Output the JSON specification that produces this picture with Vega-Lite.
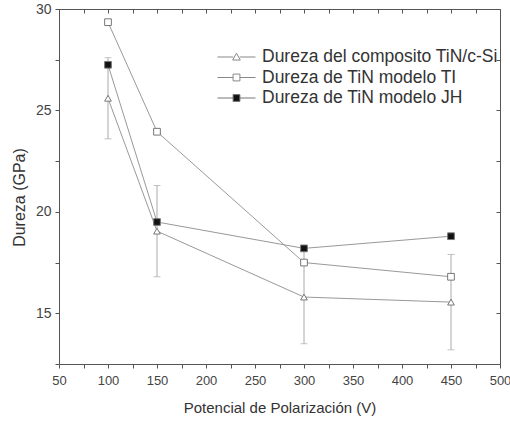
{
  "$schema": "https://vega.github.io/schema/vega-lite/v6.json",
  "width": 441,
  "height": 355,
  "autosize": "none",
  "padding": {"left": 59, "top": 9, "right": 10, "bottom": 61},
  "background": "white",
  "config": {
    "view": {"stroke": null},
    "font": "Liberation Sans",
    "axis": {"grid": false, "domainColor": "#555", "tickColor": "#555", "labelColor": "#444", "titleColor": "#333", "labelFont": "Liberation Sans", "titleFont": "Liberation Sans", "titleFontWeight": "normal", "labelOverlap": false, "labelFlush": false}
  },
  "datasets": {
    "pts": [
      {"series": "Dureza del composito TiN/c-Si", "x": 100, "y": 25.6},
      {"series": "Dureza del composito TiN/c-Si", "x": 150, "y": 19.05},
      {"series": "Dureza del composito TiN/c-Si", "x": 300, "y": 15.8},
      {"series": "Dureza del composito TiN/c-Si", "x": 450, "y": 15.55},
      {"series": "Dureza de TiN modelo TI", "x": 100, "y": 29.35},
      {"series": "Dureza de TiN modelo TI", "x": 150, "y": 23.95},
      {"series": "Dureza de TiN modelo TI", "x": 300, "y": 17.5},
      {"series": "Dureza de TiN modelo TI", "x": 450, "y": 16.8},
      {"series": "Dureza de TiN modelo JH", "x": 100, "y": 27.25},
      {"series": "Dureza de TiN modelo JH", "x": 150, "y": 19.5},
      {"series": "Dureza de TiN modelo JH", "x": 300, "y": 18.2},
      {"series": "Dureza de TiN modelo JH", "x": 450, "y": 18.8}
    ],
    "err": [
      {"x": 100, "lo": 23.6, "hi": 27.6},
      {"x": 150, "lo": 16.8, "hi": 21.3},
      {"x": 300, "lo": 13.5, "hi": 18.1},
      {"x": 450, "lo": 13.2, "hi": 17.9}
    ]
  },
  "resolve": {"scale": {"shape": "independent", "fill": "independent", "stroke": "independent"}},
  "layer": [
    {
      "data": {"name": "err"},
      "mark": {"type": "errorbar", "ticks": {"size": 7, "color": "#aaa"}, "rule": {"color": "#aaa", "strokeWidth": 1}},
      "encoding": {
        "x": {"field": "x", "type": "quantitative", "scale": {"domain": [50, 500], "nice": false, "zero": false}, "axis": null},
        "y": {"field": "lo", "type": "quantitative", "scale": {"domain": [12.5, 30], "nice": false, "zero": false}, "axis": null},
        "y2": {"field": "hi"}
      }
    },
    {
      "data": {"name": "pts"},
      "mark": {"type": "line", "color": "#999", "strokeWidth": 1},
      "encoding": {
        "x": {"field": "x", "type": "quantitative", "scale": {"domain": [50, 500], "nice": false, "zero": false},
          "axis": {"orient": "top", "values": [50, 75, 100, 125, 150, 175, 200, 225, 250, 275, 300, 325, 350, 375, 400, 425, 450, 475, 500], "labels": false, "title": null, "tickSize": -4}},
        "y": {"field": "y", "type": "quantitative", "scale": {"domain": [12.5, 30], "nice": false, "zero": false},
          "axis": {"orient": "right", "values": [12.5, 15, 17.5, 20, 22.5, 25, 27.5, 30], "labels": false, "title": null, "tickSize": -4}},
        "detail": {"field": "series"}
      }
    },
    {
      "data": {"name": "pts"},
      "mark": {"type": "point", "filled": true, "opacity": 1, "stroke": "#777", "strokeWidth": 1, "size": 45},
      "encoding": {
        "x": {"field": "x", "type": "quantitative", "scale": {"domain": [50, 500], "nice": false, "zero": false},
          "axis": {"orient": "bottom", "values": [50, 75, 100, 125, 150, 175, 200, 225, 250, 275, 300, 325, 350, 375, 400, 425, 450, 475, 500],
            "labelExpr": "datum.value % 50 === 0 ? datum.label : ''", "tickSize": 4,
            "labelFontSize": 13, "labelPadding": 6, "title": "Potencial de Polarización (V)", "titleFontSize": 15, "titlePadding": 13}},
        "y": {"field": "y", "type": "quantitative", "scale": {"domain": [12.5, 30], "nice": false, "zero": false},
          "axis": {"orient": "left", "values": [12.5, 15, 17.5, 20, 22.5, 25, 27.5, 30],
            "labelExpr": "datum.value % 5 === 0 ? datum.label : ''", "tickSize": 4,
            "labelFontSize": 14, "labelPadding": 4, "title": "Dureza (GPa)", "titleFontSize": 16, "titlePadding": 8, "titleY": 188}},
        "shape": {"field": "series", "type": "nominal",
          "scale": {"domain": ["Dureza del composito TiN/c-Si", "Dureza de TiN modelo TI", "Dureza de TiN modelo JH"], "range": ["triangle-up", "square", "square"]},
          "legend": null},
        "fill": {"condition": {"test": "datum.series === 'Dureza de TiN modelo JH'", "value": "#111111"}, "value": "#ffffff"}
      }
    },
    {
      "data": {"name": "pts"},
      "mark": {"type": "point", "filled": true, "opacity": 0, "strokeWidth": 1, "size": 45},
      "encoding": {
        "x": {"field": "x", "type": "quantitative", "axis": null},
        "y": {"field": "y", "type": "quantitative", "axis": null},
        "shape": {"field": "series", "type": "nominal",
          "scale": {"domain": ["Dureza del composito TiN/c-Si", "Dureza de TiN modelo TI", "Dureza de TiN modelo JH"],
            "range": ["M-1,0H-0.17M0.17,0H1M-0.2,0.16L0,-0.2L0.2,0.16Z", "M-1,0H-0.18M0.18,0H1M-0.18,-0.18H0.18V0.18H-0.18Z", "M-1,0H-0.18M0.18,0H1M-0.18,-0.18H0.18V0.18H-0.18Z"]},
          "legend": {"orient": "none", "legendX": 158, "legendY": 38, "title": null, "padding": 0, "symbolSize": 1444, "clipHeight": 20, "rowPadding": 0.5,
            "labelFontSize": 17.5, "labelColor": "#333", "labelOffset": 6, "labelLimit": 400, "symbolStrokeWidth": 1, "symbolOpacity": 1}},
        "fill": {"field": "series", "type": "nominal",
          "scale": {"domain": ["Dureza del composito TiN/c-Si", "Dureza de TiN modelo TI", "Dureza de TiN modelo JH"], "range": ["#ffffff", "#ffffff", "#111111"]},
          "legend": {"orient": "none", "legendX": 158, "legendY": 38, "title": null, "padding": 0, "symbolSize": 1444, "clipHeight": 20, "rowPadding": 0.5,
            "labelFontSize": 17.5, "labelColor": "#333", "labelOffset": 6, "labelLimit": 400, "symbolStrokeWidth": 1, "symbolOpacity": 1}},
        "stroke": {"field": "series", "type": "nominal",
          "scale": {"domain": ["Dureza del composito TiN/c-Si", "Dureza de TiN modelo TI", "Dureza de TiN modelo JH"], "range": ["#888888", "#888888", "#777777"]},
          "legend": {"orient": "none", "legendX": 158, "legendY": 38, "title": null, "padding": 0, "symbolSize": 1444, "clipHeight": 20, "rowPadding": 0.5,
            "labelFontSize": 17.5, "labelColor": "#333", "labelOffset": 6, "labelLimit": 400, "symbolStrokeWidth": 1, "symbolOpacity": 1}}
      }
    }
  ]
}
